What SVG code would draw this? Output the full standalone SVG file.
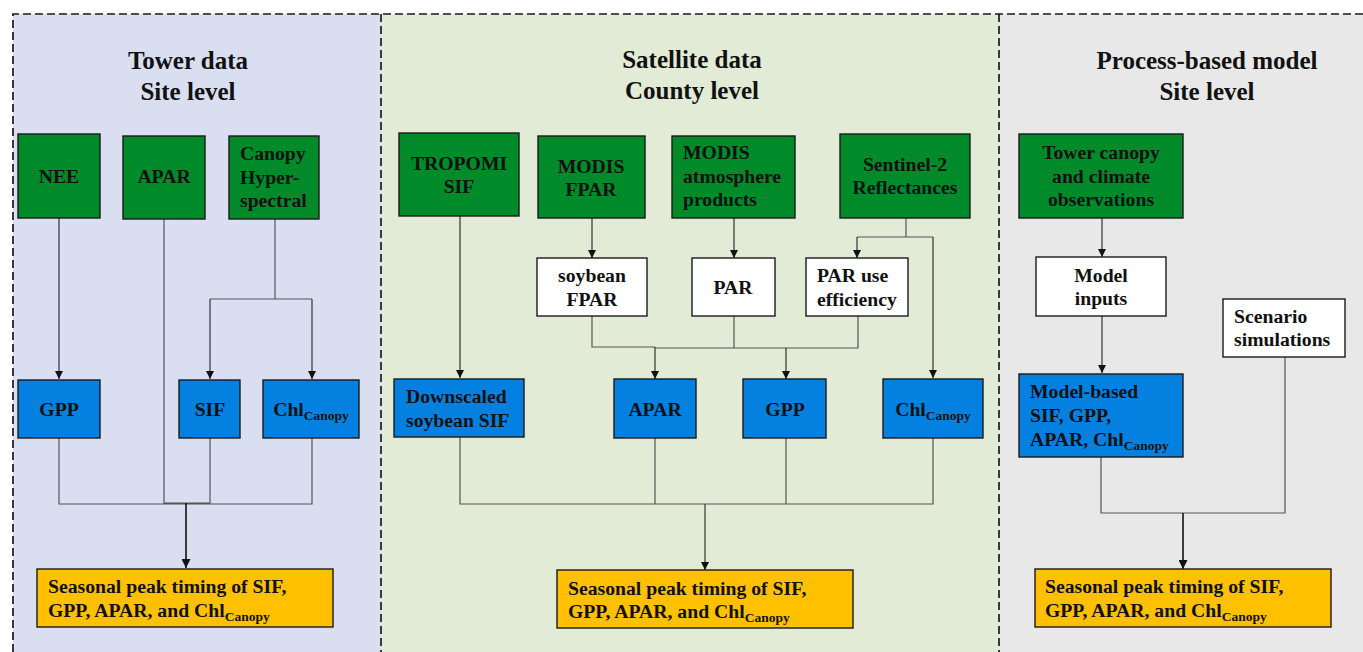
<svg xmlns="http://www.w3.org/2000/svg" width="1363" height="652" viewBox="0 0 1363 652">
<defs>
<marker id="ah" viewBox="0 0 10 10" refX="10" refY="5" markerWidth="8" markerHeight="8" markerUnits="userSpaceOnUse" orient="auto"><path d="M0,0 L10,5 L0,10 z" fill="#111"/></marker>
<marker id="ah2" viewBox="0 0 10 10" refX="10" refY="5" markerWidth="9" markerHeight="9" markerUnits="userSpaceOnUse" orient="auto"><path d="M0,0 L10,5 L0,10 z" fill="#111"/></marker>
</defs>
<style>
text{font-family:"Liberation Serif","Times New Roman",serif;font-weight:bold;fill:#111;}
.t{font-size:25px;text-anchor:middle;}
.n{font-size:19.7px;}
.c{text-anchor:middle;}
.s{font-size:13.5px;}
.g{fill:#008A2A;stroke:#1a1a1a;stroke-width:1.4;}
.b{fill:#0481E0;stroke:#1a1a1a;stroke-width:1.4;}
.w{fill:#ffffff;stroke:#1a1a1a;stroke-width:1.4;}
.o{fill:#FFC000;stroke:#1a1a1a;stroke-width:1.4;}
.l{fill:none;stroke:#555;stroke-width:1.2;}
.la{fill:none;stroke:#333;stroke-width:1.2;marker-end:url(#ah);}
.lb{fill:none;stroke:#111;stroke-width:1.6;marker-end:url(#ah2);}
.d{fill:none;stroke:#1a1a1a;stroke-width:1.7;stroke-dasharray:8,4;}
</style>
<g id="panels">
<rect x="13" y="14" width="368" height="640" fill="#D9DFF1"/>
<rect x="381" y="14" width="618" height="640" fill="#E2EBD6"/>
<rect x="999" y="14" width="366" height="640" fill="#E8E8E8"/>
<path class="d" d="M13,652 L13,14 L1363,14"/>
<path class="d" d="M381,14 L381,652"/>
<path class="d" d="M999,14 L999,652"/>
</g>
<g id="titles">
<text class="t" x="188" y="69">Tower data</text>
<text class="t" x="188" y="100">Site level</text>
<text class="t" x="692" y="68">Satellite data</text>
<text class="t" x="692" y="99">County level</text>
<text class="t" x="1207" y="69">Process-based model</text>
<text class="t" x="1207" y="100">Site level</text>
</g>
<g id="connectors">
<path class="la" d="M59,218 L59,379"/>
<path class="l" d="M275,219 L275,299 M210,299 L312,299"/>
<path class="la" d="M210,299 L210,379"/>
<path class="la" d="M312,299 L312,379"/>
<path class="l" d="M59,438 L59,504 L312,504 L312,438 M164,219 L164,503 L210,503 L210,438"/>
<path class="lb" d="M186,503 L186,568"/>
<path class="la" d="M460,216 L460,378"/>
<path class="la" d="M592,218 L592,258"/>
<path class="la" d="M734,218 L734,258"/>
<path class="l" d="M906,218 L906,237 M857,237 L933,237"/>
<path class="la" d="M857,237 L857,258"/>
<path class="la" d="M933,237 L933,378"/>
<path class="l" d="M592,316 L592,347 L655,347 M655,348 L858,348 L858,316 M734,316 L734,348"/>
<path class="la" d="M655,347 L655,379"/>
<path class="la" d="M786,348 L786,379"/>
<path class="l" d="M460,437 L460,504 L933,504 L933,438 M655,438 L655,504 M786,438 L786,504"/>
<path class="la" d="M705,504 L705,570"/>
<path class="la" d="M1102,218 L1102,257"/>
<path class="la" d="M1102,316 L1102,373"/>
<path class="l" d="M1101,457 L1101,513 L1285,513 L1285,357"/>
<path class="lb" d="M1183,513 L1183,569"/>
</g>
<g id="nee"><rect class="g" x="18" y="134" width="82" height="84"/><text class="n c" x="59" y="183">NEE</text></g>
<g id="apar-tower"><rect class="g" x="123" y="136" width="82" height="83"/><text class="n c" x="164" y="183">APAR</text></g>
<g id="canopy-hyper"><rect class="g" x="229" y="136" width="90" height="83"/><text class="n" x="240" y="160">Canopy</text><text class="n" x="240" y="184">Hyper-</text><text class="n" x="240" y="207">spectral</text></g>
<g id="gpp-tower"><rect class="b" x="18" y="380" width="82" height="58"/><text class="n c" x="59" y="416">GPP</text></g>
<g id="sif-tower"><rect class="b" x="179" y="380" width="61" height="58"/><text class="n c" x="210" y="416">SIF</text></g>
<g id="chl-tower"><rect class="b" x="263" y="380" width="96" height="58"/><text class="n c" x="311" y="416">Chl<tspan class="s" dy="4">Canopy</tspan></text></g>
<g id="out-tower"><rect class="o" x="37" y="569" width="296" height="58"/><text class="n" x="48" y="593">Seasonal peak timing of SIF,</text><text class="n" x="48" y="617">GPP, APAR, and Chl<tspan class="s" dy="4">Canopy</tspan></text></g>
<g id="tropomi"><rect class="g" x="399" y="133" width="120" height="83"/><text class="n c" x="459" y="170">TROPOMI</text><text class="n c" x="459" y="193">SIF</text></g>
<g id="modis-fpar"><rect class="g" x="538" y="136" width="107" height="82"/><text class="n c" x="591" y="173">MODIS</text><text class="n c" x="591" y="196">FPAR</text></g>
<g id="modis-atm"><rect class="g" x="672" y="136" width="123" height="82"/><text class="n" x="683" y="159">MODIS</text><text class="n" x="683" y="183">atmosphere</text><text class="n" x="683" y="206">products</text></g>
<g id="sentinel"><rect class="g" x="840" y="134" width="130" height="84"/><text class="n c" x="905" y="171">Sentinel-2</text><text class="n c" x="905" y="194">Reflectances</text></g>
<g id="soy-fpar"><rect class="w" x="537" y="258" width="110" height="58"/><text class="n c" x="592" y="282">soybean</text><text class="n c" x="592" y="306">FPAR</text></g>
<g id="par"><rect class="w" x="692" y="258" width="83" height="58"/><text class="n c" x="733" y="294">PAR</text></g>
<g id="par-use"><rect class="w" x="806" y="258" width="102" height="58"/><text class="n" x="817" y="282">PAR use</text><text class="n" x="817" y="306">efficiency</text></g>
<g id="downscaled"><rect class="b" x="394" y="379" width="130" height="58"/><text class="n" x="406" y="403">Downscaled</text><text class="n" x="406" y="427">soybean SIF</text></g>
<g id="apar-sat"><rect class="b" x="614" y="379" width="82" height="59"/><text class="n c" x="655" y="416">APAR</text></g>
<g id="gpp-sat"><rect class="b" x="743" y="379" width="83" height="59"/><text class="n c" x="785" y="416">GPP</text></g>
<g id="chl-sat"><rect class="b" x="883" y="379" width="100" height="59"/><text class="n c" x="933" y="416">Chl<tspan class="s" dy="4">Canopy</tspan></text></g>
<g id="out-sat"><rect class="o" x="557" y="570" width="296" height="58"/><text class="n" x="568" y="595">Seasonal peak timing of SIF,</text><text class="n" x="568" y="618">GPP, APAR, and Chl<tspan class="s" dy="4">Canopy</tspan></text></g>
<g id="tower-canopy"><rect class="g" x="1019" y="134" width="164" height="84"/><text class="n c" x="1101" y="159">Tower canopy</text><text class="n c" x="1101" y="183">and climate</text><text class="n c" x="1101" y="206">observations</text></g>
<g id="model-inputs"><rect class="w" x="1036" y="257" width="130" height="59"/><text class="n c" x="1101" y="282">Model</text><text class="n c" x="1101" y="305">inputs</text></g>
<g id="scenario"><rect class="w" x="1223" y="299" width="122" height="58"/><text class="n" x="1234" y="323">Scenario</text><text class="n" x="1234" y="346">simulations</text></g>
<g id="model-based"><rect class="b" x="1019" y="374" width="164" height="83"/><text class="n" x="1030" y="398">Model-based</text><text class="n" x="1030" y="422">SIF, GPP,</text><text class="n" x="1030" y="446">APAR, Chl<tspan class="s" dy="4">Canopy</tspan></text></g>
<g id="out-model"><rect class="o" x="1035" y="569" width="296" height="58"/><text class="n" x="1045" y="593">Seasonal peak timing of SIF,</text><text class="n" x="1045" y="617">GPP, APAR, and Chl<tspan class="s" dy="4">Canopy</tspan></text></g>
</svg>
